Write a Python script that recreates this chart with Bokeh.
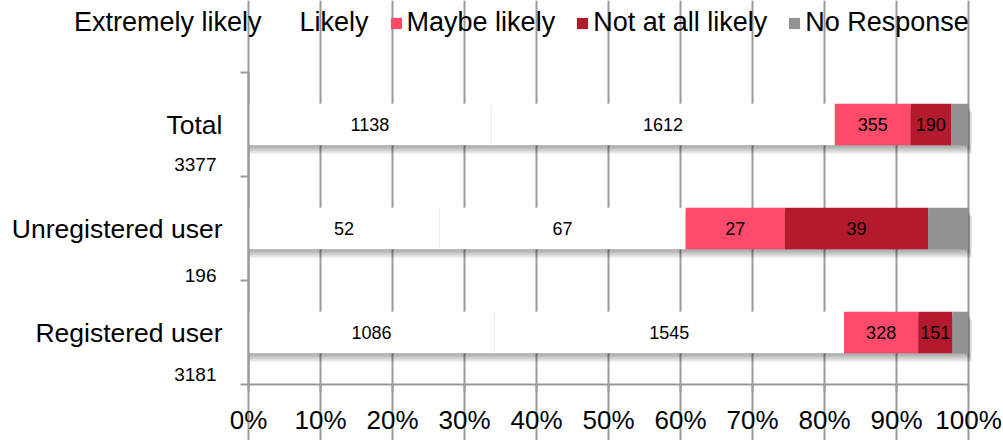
import numpy as np
from bokeh.plotting import figure
from bokeh.models import (Range1d, FixedTicker, NumeralTickFormatter, LinearAxis,
                          Legend, LegendItem, ColumnDataSource, Grid)
from bokeh.core.properties import value
from bokeh.embed import file_html
from bokeh.resources import INLINE

# ---- data ----
categories = ["Registered user", "Unregistered user", "Total"]   # bottom -> top
totals = [3181, 196, 3377]
series = ["Extremely likely", "Likely", "Maybe likely", "Not at all likely", "No Response"]
extremely_likely = [1086, 52, 1138]
likely = [1545, 67, 1612]
maybe_likely = [328, 27, 355]
not_at_all_likely = [151, 39, 190]
no_response = [71, 11, 82]
x_ticks = [0.0, 0.1, 0.2, 0.3, 0.4, 0.5, 0.6, 0.7, 0.8, 0.9, 1.0]

colors = ["#FFFFFF", "#FFFFFF", "#FF4A6C", "#B41A2E", "#939393"]
FONT = "Liberation Sans"
GRID = "#9a9a9a"

vals = np.array([extremely_likely, likely, maybe_likely, not_at_all_likely, no_response], dtype=float)
tot = np.array(totals, dtype=float)
frac = vals / tot
right = np.cumsum(frac, axis=0)
left = right - frac
ycenter = np.array([0.5, 1.5, 2.5])
count_label_y = [0.10, 1.05, 2.12]

# plot area: 0..1 -> 248..968 px, 0..3 -> 384..72 px
PXX = 720.0
PXY = 104.0
p = figure(width=1003, height=440, output_backend="svg", toolbar_location=None,
           x_range=Range1d(-248 / PXX, 1 + 35 / PXX),
           y_range=Range1d(-56 / PXY, 3 + 72 / PXY),
           min_border=0, x_axis_location=None, y_axis_location=None)
p.outline_line_color = None
p.background_fill_color = "white"
p.xgrid.visible = False
p.ygrid.visible = False

# x axis
xaxis = LinearAxis(ticker=FixedTicker(ticks=x_ticks), fixed_location=0, bounds=(0, 1),
                   formatter=NumeralTickFormatter(format="0%"))
xaxis.axis_line_color = GRID
xaxis.axis_line_width = 2
xaxis.major_tick_line_color = GRID
xaxis.major_tick_line_width = 2
xaxis.major_tick_out = 7
xaxis.major_tick_in = 0
xaxis.minor_tick_line_color = None
xaxis.major_label_text_font = FONT
xaxis.major_label_text_font_size = "26px"
xaxis.major_label_text_color = "black"
xaxis.major_label_standoff = 13
p.add_layout(xaxis, "below")

# y axis
yaxis = LinearAxis(ticker=FixedTicker(ticks=list(ycenter), minor_ticks=[0, 1, 2, 3]),
                   fixed_location=0, bounds=(0, 3))
yaxis.major_label_overrides = {float(c): n for c, n in zip(ycenter, categories)}
yaxis.axis_line_color = GRID
yaxis.axis_line_width = 2
yaxis.major_tick_line_color = None
yaxis.major_tick_out = 0
yaxis.major_tick_in = 0
yaxis.minor_tick_line_color = GRID
yaxis.minor_tick_line_width = 2
yaxis.minor_tick_out = 8
yaxis.minor_tick_in = 0
yaxis.major_label_text_font = FONT
yaxis.major_label_text_font_size = "26.5px"
yaxis.major_label_text_color = "black"
yaxis.major_label_standoff = 18
p.add_layout(yaxis, "left")

g = Grid(dimension=0, ticker=FixedTicker(ticks=x_ticks), bounds=(0, 3),
         grid_line_color=GRID, grid_line_width=2)
p.add_layout(g)

# shadow under bars
bar_h = 0.4
px = 1.0 / PXY
bar_right = right[-1]
for k in range(1, 10):
    p.hbar(y=ycenter - k * px, left=0, right=bar_right + k * 0.4 / PXX, height=bar_h,
           fill_color="black", fill_alpha=0.042, line_color=None)

renderers = []
for i, name in enumerate(series):
    src = ColumnDataSource(dict(y=ycenter, left=left[i], right=right[i]))
    r = p.hbar(y="y", left="left", right="right", height=bar_h, source=src,
               fill_color=colors[i], line_color=None)
    renderers.append(r)
# faint divider between the two white segments
p.segment(x0=right[0], x1=right[0], y0=ycenter - bar_h / 2, y1=ycenter + bar_h / 2,
          line_color="#ededed", line_width=1)

# value labels inside segments (all except No Response)
lx, ly, lt = [], [], []
for i in range(4):
    for j in range(3):
        lx.append((left[i][j] + right[i][j]) / 2)
        ly.append(ycenter[j])
        lt.append(str(int(vals[i][j])))
p.text(x=lx, y=ly, text=lt, text_align="center", text_baseline="middle",
       text_font=value(FONT), text_font_size="18px", text_color="black")

# total counts under the category names
p.text(x=[-32 / PXX] * 3, y=count_label_y, text=[str(t) for t in totals],
       text_align="right", text_baseline="middle",
       text_font=value(FONT), text_font_size="19px", text_color="black")

legend = Legend(items=[LegendItem(label=series[i], renderers=[renderers[i]]) for i in range(5)],
                orientation="horizontal", location=(56, 402))
legend.label_text_font = FONT
legend.label_text_font_size = "27px"
legend.label_text_color = "black"
legend.glyph_width = 14
legend.glyph_height = 14
legend.label_standoff = 4
legend.spacing = 20
legend.padding = 0
legend.margin = 0
legend.label_height = 26
legend.border_line_color = None
legend.background_fill_alpha = 0
p.add_layout(legend, "center")

open("out.html", "w").write(file_html(p, INLINE))
